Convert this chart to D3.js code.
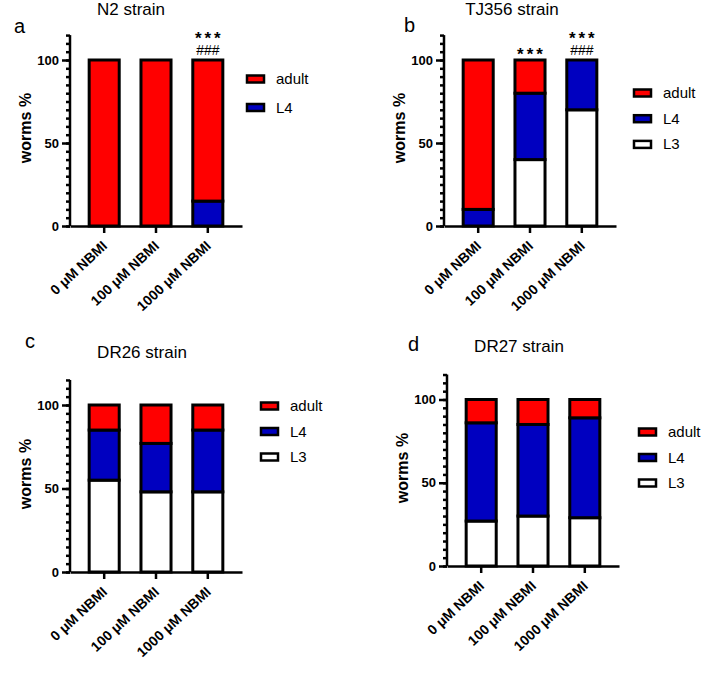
<!DOCTYPE html>
<html>
<head>
<meta charset="utf-8">
<script src="https://cdn.jsdelivr.net/npm/d3@7"></script>
<style>
  body { margin: 0; background: #fff; }
  svg text { font-family: "Liberation Sans", Arial, sans-serif; fill: #000; }
  .axis path, .axis line { stroke: #000; stroke-width: 2.5; }
</style>
</head>
<body>
<div id="chart"></div>
<script>

// **********************************************************
//                      Data
// **********************************************************

const doses = ["0 μM NBMI", "100 μM NBMI", "1000 μM NBMI"];
const stages = ["L3", "L4", "adult"];          // stacked bottom -> top
const yTicks = [0, 50, 100];

const n2L3 = [0, 0, 0];
const n2L4 = [0, 0, 15];
const n2Adult = [100, 100, 85];

const tj356L3 = [0, 40, 70];
const tj356L4 = [10, 40, 30];
const tj356Adult = [90, 20, 0];

const dr26L3 = [55, 48, 48];
const dr26L4 = [30, 29, 37];
const dr26Adult = [15, 23, 15];

const dr27L3 = [27, 30, 29];
const dr27L4 = [59, 55, 60];
const dr27Adult = [14, 15, 11];

// significance marks, per bar index
const n2Marks = [[], [], ["***", "###"]];
const tj356Marks = [[], ["***"], ["***", "###"]];

const colors = { adult: "#ff0000", L4: "#0000c0", L3: "#ffffff" };

function rows(l3, l4, adult) {
    return doses.map((d, i) => ({ dose: d, L3: l3[i], L4: l4[i], adult: adult[i] }));
}

// panel placement (layout only)
const panels = [
    { letter: "a", title: "N2 strain", data: rows(n2L3, n2L4, n2Adult), legend: ["adult", "L4"], marks: n2Marks,
      x0: 70, y0: 226, h100: 166, titleX: 131, titleY: 14.5, letterX: 14, letterY: 33,
      legX: 246, legY: 79, legStep: 28.5 },
    { letter: "b", title: "TJ356 strain", data: rows(tj356L3, tj356L4, tj356Adult), legend: ["adult", "L4", "L3"], marks: tj356Marks,
      x0: 444, y0: 226, h100: 166, titleX: 512, titleY: 14.5, letterX: 404, letterY: 32,
      legX: 633, legY: 93, legStep: 25.7 },
    { letter: "c", title: "DR26 strain", data: rows(dr26L3, dr26L4, dr26Adult), legend: ["adult", "L4", "L3"], marks: [[], [], []],
      x0: 70, y0: 572, h100: 167, titleX: 142, titleY: 358, letterX: 25, letterY: 348,
      legX: 260, legY: 406, legStep: 25.5 },
    { letter: "d", title: "DR27 strain", data: rows(dr27L3, dr27L4, dr27Adult), legend: ["adult", "L4", "L3"], marks: [[], [], []],
      x0: 447, y0: 566, h100: 166.5, titleX: 519, titleY: 352, letterX: 408, letterY: 351,
      legX: 638, legY: 432, legStep: 25.5 }
];


// **********************************************************
//                   Container
// **********************************************************

const svg = d3.select("#chart")
    .append("svg")
    .attr("width", 714)
    .attr("height", 674);

svg.append("rect").attr("width", 714).attr("height", 674).attr("fill", "#fff");

panels.forEach(drawPanel);


// **********************************************************
//                      Drawing
// **********************************************************

function drawPanel(p) {
    const g = svg.append("g");

    const x = d3.scaleBand()
        .domain(doses)
        .range([p.x0, p.x0 + 172])
        .paddingInner(0.42)
        .paddingOuter(0.37);

    const y = d3.scaleLinear()
        .domain([0, 100])
        .range([p.y0, p.y0 - p.h100]);

    const series = d3.stack().keys(stages)(p.data);

    // stacked bars
    series.forEach((s) => {
        g.selectAll(".seg-" + s.key)
            .data(s.filter((d) => d[1] - d[0] > 0))
            .enter()
            .append("rect")
            .attr("x", (d) => x(d.data.dose))
            .attr("width", x.bandwidth())
            .attr("y", (d) => y(d[1]))
            .attr("height", (d) => y(d[0]) - y(d[1]))
            .attr("fill", colors[s.key])
            .attr("stroke", "#000")
            .attr("stroke-width", 3);
    });

    // minor y ticks
    g.append("g")
        .attr("class", "axis")
        .attr("transform", "translate(" + p.x0 + ",0)")
        .call(d3.axisLeft(y).tickValues(d3.range(0, 116, 5)).tickSize(4).tickSizeOuter(0).tickFormat(""))
        .call((a) => a.select(".domain").remove())
        .selectAll("line").attr("stroke-width", 1.8);

    // major y axis
    const yAxis = g.append("g")
        .attr("class", "axis")
        .attr("transform", "translate(" + p.x0 + ",0)")
        .call(d3.axisLeft(y).tickValues(yTicks).tickSize(8).tickSizeOuter(0));
    yAxis.select(".domain").attr("d", "M0," + y(0) + "V" + y(115));
    yAxis.selectAll("text")
        .attr("x", -11)
        .style("font-size", "13px")
        .style("font-weight", "bold");

    // x axis
    const xAxis = g.append("g")
        .attr("class", "axis")
        .attr("transform", "translate(0," + p.y0 + ")")
        .call(d3.axisBottom(x).tickSize(7).tickSizeOuter(0));
    xAxis.selectAll("text")
        .attr("y", 0)
        .attr("dy", 0)
        .attr("text-anchor", "end")
        .attr("transform", "translate(4,21) rotate(-43)")
        .style("font-size", "14px")
        .style("font-weight", "bold");

    // y label
    g.append("text")
        .attr("transform", "translate(" + (p.x0 - 39) + "," + (p.y0 - 98) + ") rotate(-90)")
        .attr("text-anchor", "middle")
        .style("font-size", "16px")
        .style("font-weight", "bold")
        .text("worms %");

    // title and panel letter
    g.append("text")
        .attr("x", p.titleX)
        .attr("y", p.titleY)
        .attr("text-anchor", "middle")
        .style("font-size", "17px")
        .text(p.title);

    g.append("text")
        .attr("x", p.letterX)
        .attr("y", p.letterY)
        .style("font-size", "20px")
        .text(p.letter);

    // significance marks (bottom line sits just above the bar)
    p.marks.forEach((lines, i) => {
        const cx = x(doses[i]) + x.bandwidth() / 2;
        lines.slice().reverse().forEach((t, k) => {
            const stars = t === "***";
            g.append("text")
                .attr("x", cx + (stars ? 1.5 : 0))
                .attr("y", y(100) - (stars ? 0 : 5) - k * 16)
                .attr("text-anchor", "middle")
                .style("font-size", stars ? "17px" : "14px")
                .style("font-weight", stars ? "bold" : "normal")
                .style("letter-spacing", stars ? "3px" : "0px")
                .text(t);
        });
    });

    // legend
    const leg = g.selectAll(".legend")
        .data(p.legend)
        .enter()
        .append("g")
        .attr("transform", (d, i) => "translate(" + p.legX + "," + (p.legY + i * p.legStep) + ")");

    leg.append("rect")
        .attr("x", 1)
        .attr("y", -3.5)
        .attr("width", 17)
        .attr("height", 7)
        .attr("fill", (d) => colors[d])
        .attr("stroke", "#000")
        .attr("stroke-width", 2.5);

    leg.append("text")
        .attr("x", 30)
        .attr("y", 5)
        .style("font-size", "15px")
        .text((d) => d);
}
</script>
</body>
</html>
